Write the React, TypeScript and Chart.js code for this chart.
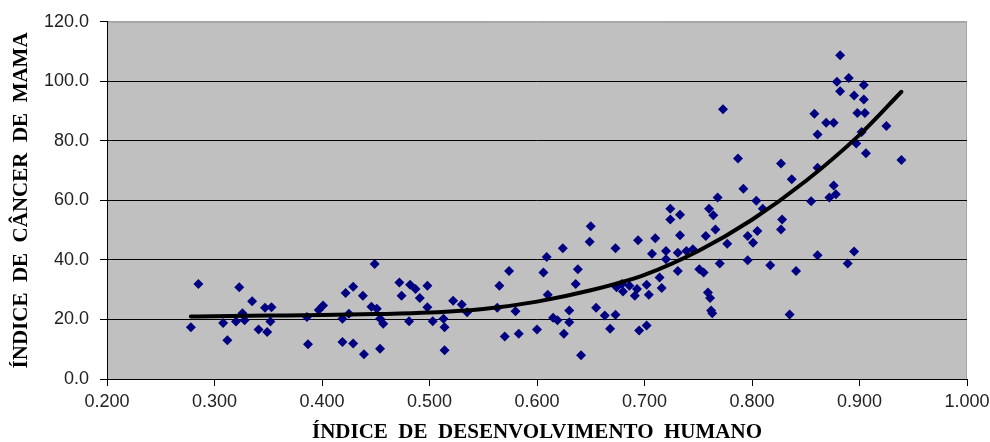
import React, { useEffect, useRef } from 'react';
import { Chart, registerables } from 'chart.js';

Chart.register(...registerables);

// Índice de Desenvolvimento Humano (x) for each country point
const hdiValues = [
  0.278, 0.285, 0.308, 0.312, 0.320, 0.323, 0.326, 0.328, 0.335, 0.341,
  0.347, 0.349, 0.352, 0.353, 0.386, 0.387, 0.397, 0.401,
  0.419, 0.419, 0.422, 0.425, 0.429, 0.429, 0.438, 0.439, 0.446, 0.449,
  0.451, 0.454, 0.454, 0.457, 0.472, 0.474, 0.481, 0.482, 0.487, 0.491,
  0.498, 0.498, 0.503, 0.513, 0.514, 0.514, 0.522, 0.530, 0.535,
  0.563, 0.565, 0.570, 0.574, 0.580, 0.583, 0.600, 0.606, 0.609, 0.610,
  0.615, 0.619, 0.624, 0.625, 0.630, 0.630, 0.636, 0.638, 0.641, 0.649,
  0.650, 0.655, 0.663, 0.668, 0.673, 0.673, 0.674, 0.679, 0.680, 0.686,
  0.691, 0.693, 0.694, 0.695, 0.702, 0.702, 0.704, 0.707, 0.710,
  0.714, 0.716, 0.720, 0.720, 0.724, 0.724, 0.731, 0.731, 0.733, 0.733,
  0.739, 0.745, 0.751, 0.755, 0.757, 0.759, 0.760, 0.761, 0.762, 0.763,
  0.764, 0.766, 0.768, 0.770, 0.773, 0.777, 0.787, 0.792, 0.796, 0.796,
  0.801, 0.804, 0.805, 0.810, 0.817, 0.827, 0.827, 0.828, 0.835, 0.837,
  0.841,
  0.855, 0.858, 0.861, 0.861, 0.861, 0.869, 0.872, 0.876, 0.876, 0.878,
  0.879, 0.882, 0.882, 0.889, 0.890, 0.895, 0.895, 0.897, 0.898, 0.902,
  0.904, 0.904, 0.905, 0.906, 0.925, 0.939,
];

// Índice de câncer de mama (y) for each country point
const cancerValues = [
  17.4, 31.9, 18.8, 13.0, 19.3, 30.8, 22.1, 19.7, 26.1, 16.6,
  23.9, 15.8, 19.3, 24.1, 20.8, 11.7, 23.2, 24.7,
  20.2, 12.4, 28.9, 21.9, 31.0, 11.9, 28.0, 8.3, 24.3, 38.6,
  23.6, 20.2, 10.2, 18.6, 32.4, 28.0, 19.4, 31.7, 30.2, 27.2,
  31.3, 24.1, 19.4, 20.2, 17.4, 9.7, 26.3, 25.0, 22.4,
  23.9, 31.3, 14.3, 36.3, 22.8, 15.2, 16.6, 35.8, 41.0, 28.3,
  20.6, 19.7, 43.9, 15.2, 23.0, 19.1, 31.9, 36.9, 8.0, 46.1,
  51.3, 23.9, 21.3, 16.9, 21.6, 43.9, 30.8, 31.9, 29.4, 31.3,
  28.0, 30.2, 46.6, 16.3, 31.7, 18.0, 28.3, 42.1, 47.3,
  34.1, 30.6, 43.0, 40.2, 57.2, 53.6, 42.4, 36.3, 55.2, 48.3,
  43.0, 43.6, 36.9, 35.8, 48.0, 29.1, 57.2, 27.2, 23.0, 22.1,
  55.0, 50.2, 61.0, 38.8, 90.6, 45.4, 74.1, 63.9, 48.0, 39.9,
  45.8, 59.9, 49.7, 57.2, 38.2, 72.4, 50.2, 53.6, 21.7, 67.1,
  36.3,
  59.7, 89.1, 82.1, 71.0, 41.6, 86.1, 61.0, 86.1, 65.0, 62.1,
  99.9, 108.8, 96.7, 38.8, 101.1, 95.2, 42.8, 79.1, 89.4, 83.0,
  98.8, 93.9, 89.4, 75.8, 85.0, 73.6,
];

// Trend line
const trendHdi = [0.278, 0.30, 0.35, 0.40, 0.45, 0.50, 0.55, 0.60, 0.65, 0.70, 0.75, 0.80, 0.85, 0.90, 0.939];
const trendCancer = [21.0, 21.1, 21.3, 21.5, 21.8, 22.3, 23.5, 26.0, 29.8, 35.0, 43.0, 53.5, 66.5, 82.0, 96.5];

const xTicks = [0.2, 0.3, 0.4, 0.5, 0.6, 0.7, 0.8, 0.9, 1.0];
const yTicks = [0, 20, 40, 60, 80, 100, 120];

const xTitle = 'ÍNDICE  DE  DESENVOLVIMENTO  HUMANO';
const yTitle = 'ÍNDICE  DE  CÂNCER  DE  MAMA';

export default function App() {
  const ref = useRef<HTMLCanvasElement>(null);

  useEffect(() => {
    document.body.style.margin = '0';
    if (!ref.current) return;

    const bgPlugin = {
      id: 'plotBg',
      beforeDraw(chart: any) {
        const { ctx, chartArea: a } = chart;
        ctx.save();
        ctx.fillStyle = '#C0C0C0';
        ctx.fillRect(a.left, a.top, a.right - a.left, a.bottom - a.top);
        ctx.strokeStyle = '#A4A4A4';
        ctx.lineWidth = 1;
        ctx.beginPath();
        ctx.moveTo(a.left, a.top + 0.5);
        ctx.lineTo(a.right - 0.5, a.top + 0.5);
        ctx.lineTo(a.right - 0.5, a.bottom);
        ctx.stroke();
        ctx.restore();
      },
    };

    const points = hdiValues.map((x, i) => ({ x, y: cancerValues[i] }));
    const trend = trendHdi.map((x, i) => ({ x, y: trendCancer[i] }));

    const tickFont = { family: '"Liberation Sans", Arial, sans-serif', size: 18 };
    const titleFont = { family: '"Liberation Serif", "Times New Roman", serif', size: 21, weight: 'bold' as const, lineHeight: 0.9 };

    const chart = new Chart(ref.current, {
      type: 'scatter',
      data: {
        datasets: [
          {
            type: 'line',
            data: trend,
            borderColor: '#000000',
            borderWidth: 4,
            borderCapStyle: 'round',
            pointRadius: 0,
            tension: 0.4,
            cubicInterpolationMode: 'monotone',
            fill: false,
            order: 0,
          } as any,
          {
            data: points,
            pointStyle: 'rectRot',
            pointRadius: 5,
            pointBorderWidth: 0,
            backgroundColor: '#000080',
            borderColor: '#000080',
            order: 1,
          },
        ],
      },
      options: {
        animation: false,
        responsive: true,
        maintainAspectRatio: false,
        layout: { padding: { top: 19, right: 23, left: 0, bottom: 0 } },
        plugins: {
          legend: { display: false },
          tooltip: { enabled: false },
        },
        scales: {
          x: {
            type: 'linear',
            min: 0.2,
            max: 1.0,
            afterBuildTicks: (scale: any) => {
              scale.ticks = xTicks.map((v) => ({ value: v }));
            },
            afterFit: (scale: any) => {
              scale.height = 63;
              scale.paddingLeft = 0;
              scale.paddingRight = 0;
            },
            ticks: {
              font: tickFont,
              color: '#222222',
              padding: 5,
              maxRotation: 0,
              autoSkip: false,
              callback: (v: any) => Number(v).toFixed(3),
            },
            grid: {
              drawOnChartArea: false,
              drawTicks: true,
              tickLength: 7,
              tickColor: '#000000',
            },
            border: { color: '#000000', width: 1 },
            title: {
              display: true,
              text: xTitle,
              font: titleFont,
              color: '#000000',
              padding: 0,
            },
          },
          y: {
            type: 'linear',
            min: 0,
            max: 120,
            afterBuildTicks: (scale: any) => {
              scale.ticks = yTicks.map((v) => ({ value: v }));
            },
            afterFit: (scale: any) => {
              scale.width = 107;
            },
            ticks: {
              font: tickFont,
              color: '#222222',
              padding: 11,
              callback: (v: any) => Number(v).toFixed(1),
            },
            grid: {
              color: (c: any) => (c.tick && c.tick.value === 120 ? '#A4A4A4' : '#000000'),
              lineWidth: 1,
              tickLength: 7,
              tickColor: '#000000',
            },
            border: { color: '#000000', width: 1 },
            title: {
              display: true,
              text: yTitle,
              font: titleFont,
              color: '#000000',
              padding: { top: 12.5, bottom: 0 },
            },
          },
        },
      },
      plugins: [bgPlugin],
    });

    return () => chart.destroy();
  }, []);

  return (
    <div style={{ width: 990, height: 442, position: 'relative', background: '#ffffff' }}>
      <canvas ref={ref} />
    </div>
  );
}
